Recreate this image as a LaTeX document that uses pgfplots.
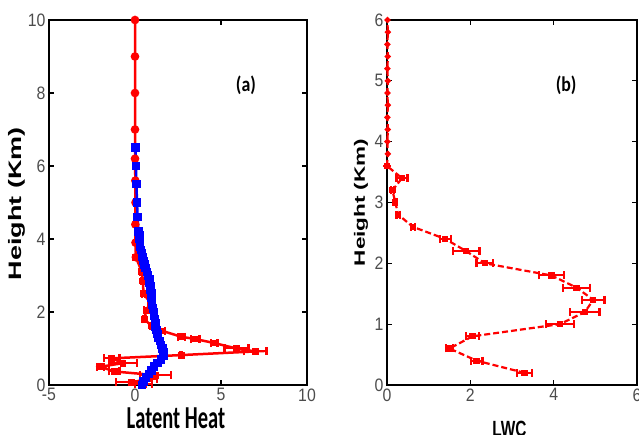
\documentclass[border=0pt]{standalone}
\usepackage{fontspec}
\setmainfont{Liberation Sans}
\newfontfamily\tickfont[FakeStretch=0.88]{Liberation Sans}
\newfontfamily\ylabfont[FakeStretch=1.5]{Liberation Sans}
\newfontfamily\xlabfont[FakeStretch=0.64]{Carlito}
\newfontfamily\lwcfont[FakeStretch=0.7]{Liberation Sans}
\newfontfamily\panelfont[FakeStretch=0.85]{Carlito}
\usepackage{pgfplots}
\pgfplotsset{compat=1.18}

\pgfplotsset{
  panel/.style={
    scale only axis, height=365pt,
    axis line style={line width=1.3pt},
    major tick style={black, line width=1.3pt},
    major tick length=5pt,
    tick align=inside,
    /pgf/number format/assume math mode=true,
    ticklabel style={font=\tickfont\fontsize{18}{18}\selectfont, text=black!70},
    clip=false,
  },
  errx/.style={error bars/.cd, x dir=both, x explicit,
    error bar style={solid, line width=2pt},
    error mark=|,
    error mark options={solid, line width=2.2pt, mark size=4pt}},
}

\begin{document}
\begin{tikzpicture}
\useasboundingbox (0,0) rectangle (639pt,435pt);

% (a) latent heat
\begin{axis}[panel, width=258pt, at={(49pt,50pt)}, anchor=south west,
  xmin=-5, xmax=10, ymin=0, ymax=10,
  xtick={-5,0,5,10}, xticklabels={-5,0,5,10},
  ytick={0,2,4,6,8,10},
  xlabel={\xlabfont\bfseries\fontsize{32}{32}\selectfont Latent Heat},
  xlabel style={at={(axis description cs:0.492,-0.118)}, anchor=base},
  ylabel={\ylabfont\bfseries\fontsize{18}{18}\selectfont Height (Km)},
  ylabel style={at={(axis description cs:-0.124,0.497)}, anchor=center},
]
% red, upper part (no error bars)
\addplot[red, line width=2.5pt, mark=*, mark size=3pt] coordinates {
(0,10) (0,9) (0,8) (0,7) (0,6.2) (0.02,5.6) (0.03,5.0) (0.02,4.4) (0.03,3.9) (0.05,3.5)
};
% red, lower part
\addplot[red, line width=2.5pt, mark=square*, mark size=2.2pt, errx] coordinates {
(0.05,3.5) +- (0,0)
(0.4,3.1) +- (0.08,0)
(0.45,2.85) +- (0.08,0)
(0.5,2.5) +- (0.08,0)
(0.9,2.25) +- (0.1,0)
(0.65,2.05) +- (0.12,0)
(0.55,1.8) +- (0.1,0)
(0.95,1.62) +- (0.1,0)
(1.6,1.48) +- (0.15,0)
(2.7,1.32) +- (0.2,0)
(3.5,1.26) +- (0.25,0)
(4.6,1.15) +- (0.2,0)
(5.9,1.0) +- (0.7,0)
(7.0,0.92) +- (0.65,0)
(2.7,0.82) +- (0.05,0)
(-1.35,0.73) +- (0.45,0)
(-0.7,0.6) +- (0.8,0)
(-2.0,0.5) +- (0.2,0)
(-1.2,0.37) +- (0.3,0)
(1.2,0.27) +- (0.9,0)
(0.8,0.17) +- (0.5,0)
(-0.2,0.07) +- (0.9,0)
(0.5,0.02) +- (0.5,0)
};
% blue
\addplot[blue, line width=2.5pt, mark=square*, mark size=3pt, errx] coordinates {
(0.03,6.5) +- (0.05,0)
(0.06,6.0) +- (0.05,0)
(0.08,5.5) +- (0.05,0)
(0.12,5.0) +- (0.05,0)
(0.15,4.6) +- (0.05,0)
(0.2,4.2) +- (0.06,0)
(0.25,4.1) +- (0.06,0)
(0.25,4.0) +- (0.06,0)
(0.3,3.9) +- (0.06,0)
(0.3,3.8) +- (0.06,0)
(0.35,3.7) +- (0.06,0)
(0.4,3.6) +- (0.06,0)
(0.45,3.5) +- (0.08,0)
(0.5,3.4) +- (0.08,0)
(0.55,3.3) +- (0.08,0)
(0.6,3.2) +- (0.08,0)
(0.7,3.1) +- (0.08,0)
(0.75,3.0) +- (0.08,0)
(0.85,2.9) +- (0.08,0)
(0.85,2.8) +- (0.1,0)
(0.9,2.7) +- (0.1,0)
(0.9,2.6) +- (0.1,0)
(0.95,2.5) +- (0.1,0)
(0.95,2.4) +- (0.1,0)
(1.0,2.3) +- (0.1,0)
(1.0,2.2) +- (0.1,0)
(1.05,2.1) +- (0.1,0)
(1.1,2.0) +- (0.1,0)
(1.1,1.9) +- (0.1,0)
(1.15,1.8) +- (0.1,0)
(1.2,1.7) +- (0.1,0)
(1.2,1.6) +- (0.1,0)
(1.25,1.5) +- (0.1,0)
(1.3,1.4) +- (0.1,0)
(1.35,1.3) +- (0.1,0)
(1.45,1.2) +- (0.1,0)
(1.5,1.1) +- (0.1,0)
(1.6,1.0) +- (0.12,0)
(1.65,0.9) +- (0.12,0)
(1.65,0.8) +- (0.12,0)
(1.5,0.7) +- (0.12,0)
(1.3,0.6) +- (0.12,0)
(1.1,0.5) +- (0.12,0)
(0.95,0.4) +- (0.12,0)
(0.8,0.3) +- (0.12,0)
(0.65,0.2) +- (0.12,0)
(0.5,0.1) +- (0.12,0)
(0.4,0.0) +- (0.12,0)
};
\node[font=\panelfont\bfseries\fontsize{21}{21}\selectfont] at (axis cs:6.45,8.2) {(a)};
\end{axis}

% (b) LWC
\begin{axis}[panel, width=250pt, at={(387pt,50pt)}, anchor=south west,
  xmin=0, xmax=6, ymin=0, ymax=6,
  xtick={0,2,4,6}, ytick={0,1,2,3,4,5,6},
  xlabel={\lwcfont\bfseries\fontsize{22}{22}\selectfont LWC},
  xlabel style={at={(axis description cs:0.49,-0.142)}, anchor=base},
  ylabel={\ylabfont\bfseries\fontsize{15}{15}\selectfont Height (Km)},
  ylabel style={at={(axis description cs:-0.104,0.5)}, anchor=center},
]
\addplot[red, line width=2.2pt, dash pattern=on 6pt off 3pt, mark=square*, mark size=2pt,
  mark options={solid}, errx] coordinates {
(3.3,0.2) +- (0.18,0)
(2.15,0.4) +- (0.14,0)
(1.5,0.6) +- (0.08,0)
(2.05,0.8) +- (0.15,0)
(4.15,1.0) +- (0.33,0)
(4.75,1.2) +- (0.35,0)
(4.95,1.4) +- (0.27,0)
(4.55,1.6) +- (0.33,0)
(3.95,1.8) +- (0.3,0)
(2.35,2.0) +- (0.2,0)
(1.9,2.2) +- (0.32,0)
(1.4,2.4) +- (0.13,0)
(0.62,2.6) +- (0.05,0)
(0.27,2.8) +- (0.04,0)
(0.2,3.0) +- (0.03,0)
(0.13,3.2) +- (0.03,0)
(0.36,3.4) +- (0.13,0)
(0.0,3.6) +- (0,0)
};
\addplot[red, line width=2.2pt, dash pattern=on 6pt off 3pt, mark=*, mark size=1.8pt,
  mark options={solid}] coordinates {
(0.0,3.6) (0.02,3.8) (0.01,4.0) (0.02,4.2) (0.01,4.4) (0.02,4.6) (0.01,4.8)
(0.02,5.0) (0.01,5.2) (0.02,5.4) (0.01,5.6) (0.02,5.8) (0.01,6.0)
};
\node[font=\panelfont\bfseries\fontsize{21}{21}\selectfont] at (axis cs:4.3,4.92) {(b)};
\end{axis}
\end{tikzpicture}
\end{document}
